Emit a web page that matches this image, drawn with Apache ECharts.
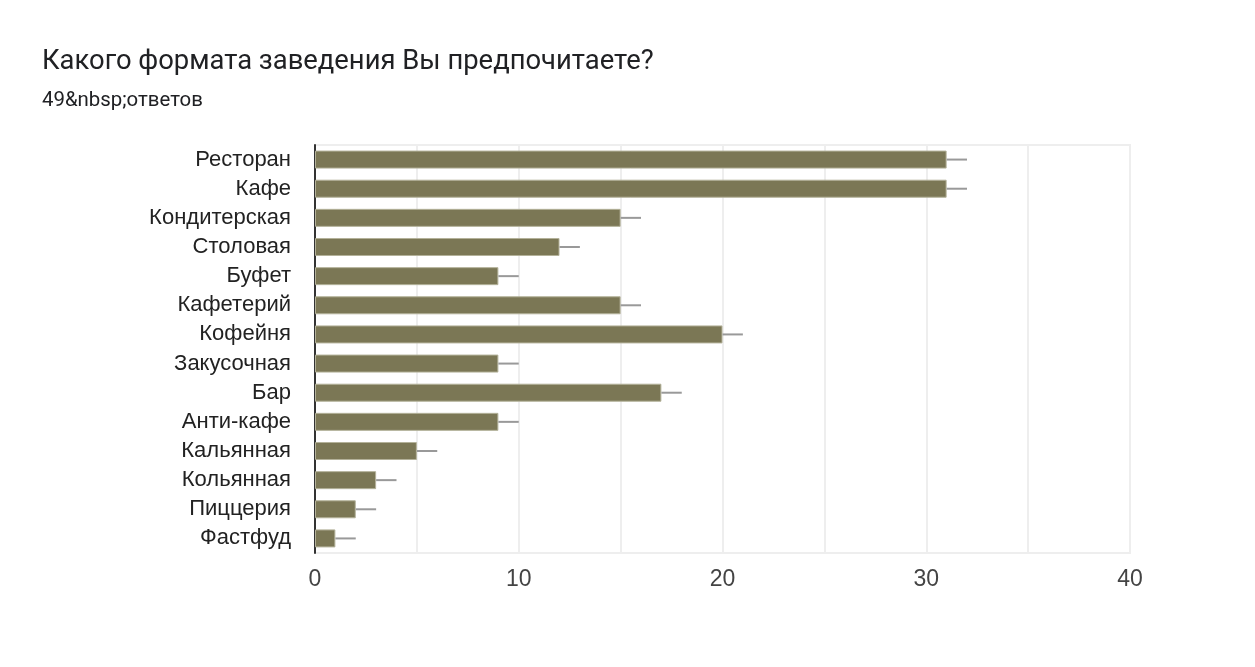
<!DOCTYPE html>
<html>
<head>
<meta charset="utf-8">
<script src="https://cdn.jsdelivr.net/npm/echarts@6/dist/echarts.min.js"></script>
<style>
html,body{margin:0;padding:0;background:#fff;}
#chart{width:1255px;height:667px;}
</style>
</head>
<body>
<div id="chart"></div>
<script>
var categories = ['Ресторан','Кафе','Кондитерская','Столовая','Буфет','Кафетерий','Кофейня','Закусочная','Бар','Анти-кафе','Кальянная','Кольянная','Пиццерия','Фастфуд'];
var values = [31,31,15,12,9,15,20,9,17,9,5,3,2,1];
var errorHigh = [32,32,16,13,10,16,21,10,18,10,6,4,3,2];
var xTicks = [0,10,20,30,40];

var chart = echarts.init(document.getElementById('chart'));
chart.setOption({
  animation: false,
  backgroundColor: '#fff',
  title: [
    {text: 'Какого формата заведения Вы предпочитаете?', left: 37, top: 44,
     textStyle: {fontFamily: 'Roboto', fontSize: 27.4, fontWeight: 'normal', color: '#202124'}},
    {text: '49&nbsp;ответов', left: 37, top: 86,
     textStyle: {fontFamily: 'Roboto', fontSize: 20.4, fontWeight: 'normal', color: '#202124'}}
  ],
  grid: {left: 315, right: 125, top: 145, bottom: 114, show: true, borderColor: '#eeeeee', borderWidth: 2},
  xAxis: {
    type: 'value', min: 0, max: 40, interval: 5,
    axisLine: {show: false}, axisTick: {show: false},
    splitLine: {lineStyle: {color: '#eeeeee', width: 2}},
    axisLabel: {
      margin: 15,
      fontFamily: 'Liberation Sans', fontSize: 23, color: '#444',
      formatter: function (v) { return xTicks.indexOf(v) >= 0 ? String(v) : ''; }
    }
  },
  yAxis: {
    type: 'category', data: categories, inverse: true,
    axisLine: {lineStyle: {color: '#333', width: 2}},
    axisTick: {show: false},
    splitLine: {show: false},
    axisLabel: {margin: 24, fontFamily: 'Liberation Sans', fontSize: 22, color: '#222', padding: [3, 0, 0, 0]}
  },
  series: [
    {
      type: 'bar', data: values, barWidth: 18,
      itemStyle: {color: '#7b7755', borderColor: '#b3b199', borderWidth: 1},
      z: 2
    },
    {
      type: 'custom', z: 3,
      data: values.map(function (v, i) { return [v, errorHigh[i], i]; }),
      encode: {x: [0, 1], y: 2},
      renderItem: function (params, api) {
        var p0 = api.coord([api.value(0), api.value(2)]);
        var p1 = api.coord([api.value(1), api.value(2)]);
        return {
          type: 'line',
          shape: {x1: p0[0], y1: p0[1], x2: p1[0], y2: p1[1]},
          style: {stroke: '#999', lineWidth: 2}
        };
      }
    }
  ]
});
</script>
</body>
</html>
